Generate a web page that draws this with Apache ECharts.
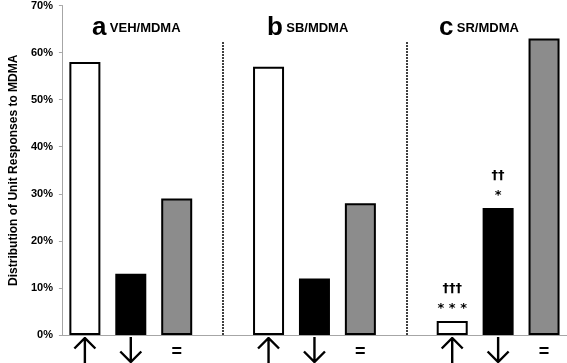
<!DOCTYPE html>
<html>
<head>
<meta charset="utf-8">
<script src="https://cdn.jsdelivr.net/npm/echarts@6/dist/echarts.min.js"></script>
<style>
  html, body { margin: 0; padding: 0; background: #fff; }
  #chart { width: 567px; height: 363px; }
</style>
</head>
<body>
<div id="chart"></div>
<script>
// groups: a, b, c
const groupLetters = ['a', 'b', 'c'];
const groupNames = ['VEH/MDMA', 'SB/MDMA', 'SR/MDMA'];
// % of units: increase / decrease / no change
const upVals = [58, 57, 3];
const downVals = [13, 12, 27];
const eqVals = [29, 28, 63];
const kindLabels = ['up', 'down', '='];
// significance marks above bars (group c only)
const upMarks = ['', '', '†††\n* * *'];
const downMarks = ['', '', '††\n*'];
const yTicks = [0, 10, 20, 30, 40, 50, 60, 70];

const kindColors = ['#ffffff', '#000000', '#8c8c8c'];

// arrow glyphs for the x labels
const arrowSvg = (d) =>
  'data:image/svg+xml;charset=utf-8,' +
  encodeURIComponent(
    '<svg xmlns="http://www.w3.org/2000/svg" width="24" height="26" viewBox="0 0 24 26">' +
      '<path d="' + d + '" fill="none" stroke="#000" stroke-width="2.4"/></svg>'
  );
const upArrow = arrowSvg('M12 1 L12 26 M1.5 11.5 L12 1 L22.5 11.5');
const downArrow = arrowSvg('M12 0 L12 25 M1.5 14.5 L12 25 L22.5 14.5');

// build 11 slots: 3 bars per group, empty slot between groups
const categories = [];
const barData = [];
groupNames.forEach((g, gi) => {
  if (gi > 0) {
    categories.push('');
    barData.push('-');
  }
  [upVals, downVals, eqVals].forEach((arr, ki) => {
    categories.push(kindLabels[ki]);
    const mark = ki === 0 ? upMarks[gi] : ki === 1 ? downMarks[gi] : '';
    barData.push({
      value: arr[gi],
      itemStyle: { color: kindColors[ki] },
      label: { show: !!mark, formatter: mark },
    });
  });
});

const myChart = echarts.init(document.getElementById('chart'));
const option = {
  animation: false,
  grid: { left: 57, right: 0, top: 5, bottom: 28 },
  xAxis: {
    type: 'category',
    data: categories,
    axisTick: { show: false },
    axisLine: { lineStyle: { color: '#a6a6a6', width: 1 } },
    axisLabel: {
      interval: 0,
      margin: 2,
      formatter: (v) => (v === '' ? '' : '{' + (v === '=' ? 'eq' : v) + '|' + (v === '=' ? '=' : '') + '}'),
      rich: {
        up: { width: 24, height: 26, backgroundColor: { image: upArrow } },
        down: { width: 24, height: 26, backgroundColor: { image: downArrow } },
        eq: { fontFamily: 'Liberation Sans', fontWeight: 'bold', fontSize: 18, color: '#000', padding: [6, 0, 0, 0] },
      },
    },
  },
  yAxis: {
    type: 'value',
    min: yTicks[0],
    max: yTicks[yTicks.length - 1],
    interval: 10,
    name: 'Distribution of Unit Responses to MDMA',
    nameLocation: 'middle',
    nameGap: 38,
    nameTextStyle: { fontFamily: 'Liberation Sans', fontWeight: 'bold', fontSize: 12, color: '#000' },
    axisLine: { show: true, lineStyle: { color: '#a6a6a6', width: 1 } },
    axisTick: { show: true, length: 3, lineStyle: { color: '#a6a6a6' } },
    splitLine: { show: false },
    axisLabel: {
      formatter: '{value}%',
      fontFamily: 'Liberation Sans',
      fontWeight: 'bold',
      fontSize: 11,
      color: '#000',
      margin: 9,
    },
  },
  series: [
    {
      type: 'bar',
      data: barData,
      barWidth: 31,
      itemStyle: { borderColor: '#000', borderWidth: 2 },
      label: {
        position: 'top',
        distance: 2,
        fontFamily: 'DejaVu Sans',
        fontWeight: 'bold',
        fontSize: 13,
        lineHeight: 20,
        color: '#000',
      },
      markLine: {
        silent: true,
        symbol: 'none',
        label: { show: false },
        lineStyle: { color: '#000', type: [2, 1], width: 1.5 },
        data: [
          [{ coord: [3, 0] }, { coord: [3, 62.3] }],
          [{ coord: [7, 0] }, { coord: [7, 62.3] }],
        ],
      },
    },
  ],
  graphic: groupNames.map((g, i) => ({
    type: 'text',
    left: [92, 267, 439][i],
    top: 15,
    style: {
      text: '{l|' + groupLetters[i] + '} {n|' + g + '}',
      rich: {
        l: { fontFamily: 'Liberation Sans', fontWeight: 'bold', fontSize: 26, fill: '#000' },
        n: { fontFamily: 'Liberation Sans', fontWeight: 'bold', fontSize: 13, fill: '#000' },
      },
    },
  })),
};
myChart.setOption(option);
</script>
</body>
</html>
